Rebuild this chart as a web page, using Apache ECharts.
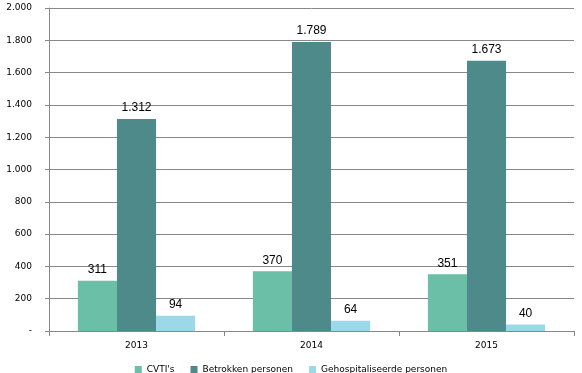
<!DOCTYPE html>
<html><head><meta charset="utf-8">
<script src="https://cdn.jsdelivr.net/npm/echarts@6/dist/echarts.min.js"></script>
<style>html,body{margin:0;padding:0;background:#fff}#c{width:582px;height:373px}</style>
</head><body><div id="c"></div>
<script>
const categories = ['2013', '2014', '2015'];
const cvtis = [311, 370, 351];
const betrokken = [1312, 1789, 1673];
const gehosp = [94, 64, 40];
const seriesNames = ["CVTI's", 'Betrokken personen', 'Gehospitaliseerde personen'];
const colors = ['#6bbfa6', '#4f8a8b', '#9bd9ea'];

function fmt(v) {
  if (v === 0) return '-';
  return String(v).replace(/\B(?=(\d{3})+(?!\d))/g, '.');
}
const chart = echarts.init(document.getElementById('c'));
const font = 'DejaVu Sans, Verdana, sans-serif';
const mk = (name, data, color) => ({
  name, type: 'bar', data, barGap: '0%', barCategoryGap: '33%',
  itemStyle: { color },
  label: { show: true, position: 'top', distance: 5, color: '#000', fontSize: 12, fontFamily: 'Liberation Sans, Arial, sans-serif', formatter: p => fmt(p.value) }
});
chart.setOption({
  animation: false,
  color: colors,
  grid: { left: 49, right: 8, top: 8, bottom: 42 },
  legend: {
    top: 360, left: 'center', itemWidth: 7, itemHeight: 7, itemGap: 16,
    icon: 'rect', textStyle: { fontSize: 9, fontFamily: font, color: '#000' },
    data: seriesNames
  },
  xAxis: {
    type: 'category', data: categories,
    axisLine: { lineStyle: { color: '#888' } },
    axisTick: { show: true, length: 5, lineStyle: { color: '#888' } },
    axisLabel: { color: '#000', fontSize: 9, fontFamily: font, margin: 10 }
  },
  yAxis: {
    type: 'value', min: 0, max: 2000, interval: 200,
    axisLine: { show: true, lineStyle: { color: '#888' } },
    axisTick: { show: true, length: 4, lineStyle: { color: '#888' } },
    splitLine: { lineStyle: { color: '#888' } },
    axisLabel: { color: '#000', fontSize: 9, fontFamily: font, margin: 17, formatter: fmt }
  },
  series: [mk(seriesNames[0], cvtis, colors[0]), mk(seriesNames[1], betrokken, colors[1]), mk(seriesNames[2], gehosp, colors[2])]
});
</script></body></html>
